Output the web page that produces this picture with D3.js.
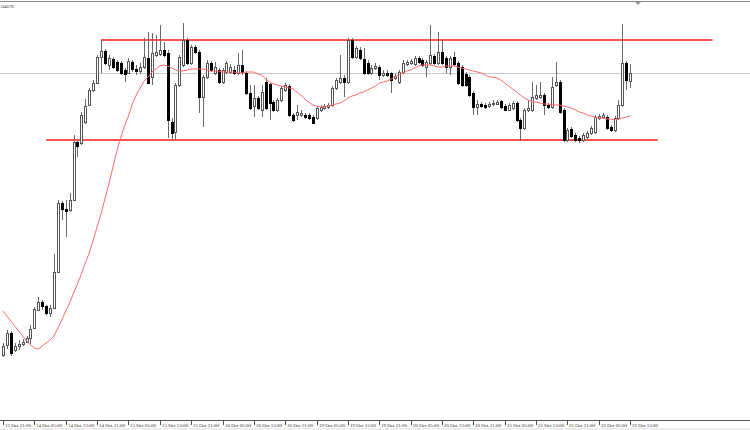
<!DOCTYPE html>
<html><head><meta charset="utf-8">
<script src="https://cdn.jsdelivr.net/npm/d3@7"></script>
<style>body{margin:0;background:#fff;} svg{display:block;}</style>
</head><body>
<svg id="c" width="750" height="430"></svg>
<script>
// H1 candles, 13 Oct 21:00 .. 22 Oct 13:00
const open = [1.0145,1.0155,1.0167,1.0150,1.0154,1.0156,1.0158,1.0162,1.0172,1.0190,
1.0198,1.0194,1.0187,1.0192,1.0228,1.0297,1.0291,1.0290,1.0300,1.0358,
1.0357,1.0378,1.0395,1.0410,1.0417,1.0443,1.0449,1.0435,1.0441,1.0438,
1.0437,1.0430,1.0427,1.0438,1.0431,1.0429,1.0433,1.0442,1.0423,1.0445,
1.0446,1.0450,1.0447,1.0378,1.0368,1.0415,1.0435,1.0460,1.0437,1.0453,
1.0448,1.0403,1.0423,1.0437,1.0427,1.0430,1.0418,1.0428,1.0428,1.0430,
1.0427,1.0435,1.0427,1.0407,1.0394,1.0402,1.0390,1.0418,1.0416,1.0398,
1.0390,1.0400,1.0410,1.0414,1.0385,1.0385,1.0385,1.0385,1.0385,1.0383,
1.0382,1.0390,1.0392,1.0393,1.0395,1.0412,1.0418,1.0422,1.0418,1.0460,
1.0443,1.0450,1.0441,1.0437,1.0427,1.0432,1.0433,1.0425,1.0427,1.0427,
1.0422,1.0418,1.0428,1.0436,1.0437,1.0436,1.0442,1.0440,1.0433,1.0437,
1.0444,1.0437,1.0448,1.0442,1.0433,1.0443,1.0437,1.0433,1.0426,1.0423,
1.0407,1.0393,1.0396,1.0395,1.0394,1.0396,1.0396,1.0399,1.0394,1.0390,
1.0392,1.0397,1.0380,1.0372,1.0390,1.0390,1.0402,1.0403,1.0405,1.0395,
1.0393,1.0415,1.0418,1.0390,1.0360,1.0371,1.0365,1.0362,1.0360,1.0363,
1.0367,1.0368,1.0382,1.0383,1.0383,1.0373,1.0370,1.0382,1.0395,1.0437,
1.0419];
const high = [1.0157,1.0170,1.0169,1.0157,1.0160,1.0161,1.0164,1.0175,1.0193,1.0203,
1.0200,1.0195,1.0195,1.0246,1.0300,1.0299,1.0300,1.0307,1.0365,1.0360,
1.0388,1.0401,1.0412,1.0420,1.0445,1.0460,1.0451,1.0445,1.0443,1.0440,
1.0439,1.0432,1.0442,1.0440,1.0435,1.0437,1.0462,1.0468,1.0467,1.0465,
1.0475,1.0458,1.0450,1.0382,1.0417,1.0445,1.0477,1.0462,1.0455,1.0455,
1.0450,1.0425,1.0440,1.0439,1.0438,1.0432,1.0432,1.0439,1.0436,1.0434,
1.0447,1.0450,1.0429,1.0415,1.0415,1.0404,1.0415,1.0422,1.0418,1.0400,
1.0402,1.0414,1.0417,1.0416,1.0387,1.0395,1.0390,1.0387,1.0387,1.0385,
1.0394,1.0395,1.0396,1.0397,1.0414,1.0422,1.0445,1.0425,1.0462,1.0462,
1.0454,1.0453,1.0452,1.0440,1.0435,1.0437,1.0435,1.0430,1.0430,1.0428,
1.0426,1.0430,1.0440,1.0440,1.0441,1.0444,1.0444,1.0442,1.0440,1.0475,
1.0446,1.0468,1.0460,1.0444,1.0444,1.0448,1.0439,1.0435,1.0428,1.0425,
1.0409,1.0400,1.0398,1.0397,1.0398,1.0400,1.0400,1.0400,1.0396,1.0397,
1.0399,1.0399,1.0382,1.0392,1.0400,1.0418,1.0415,1.0418,1.0407,1.0397,
1.0423,1.0438,1.0420,1.0392,1.0372,1.0373,1.0367,1.0364,1.0367,1.0369,
1.0374,1.0385,1.0386,1.0387,1.0385,1.0375,1.0384,1.0400,1.0476,1.0439,
1.0436];
const low = [1.0143,1.0151,1.0144,1.0148,1.0150,1.0154,1.0157,1.0156,1.0171,1.0189,
1.0190,1.0185,1.0183,1.0191,1.0227,1.0280,1.0263,1.0288,1.0299,1.0343,
1.0355,1.0376,1.0394,1.0408,1.0416,1.0427,1.0435,1.0430,1.0431,1.0428,
1.0425,1.0418,1.0426,1.0428,1.0425,1.0426,1.0431,1.0416,1.0415,1.0443,
1.0444,1.0443,1.0362,1.0360,1.0360,1.0413,1.0433,1.0435,1.0435,1.0446,
1.0387,1.0373,1.0421,1.0428,1.0425,1.0416,1.0416,1.0426,1.0426,1.0425,
1.0425,1.0425,1.0405,1.0390,1.0383,1.0390,1.0383,1.0390,1.0380,1.0388,
1.0388,1.0398,1.0408,1.0383,1.0378,1.0380,1.0383,1.0381,1.0380,1.0376,
1.0380,1.0388,1.0390,1.0391,1.0393,1.0410,1.0416,1.0403,1.0416,1.0441,
1.0441,1.0440,1.0425,1.0425,1.0425,1.0430,1.0420,1.0423,1.0423,1.0407,
1.0420,1.0416,1.0426,1.0434,1.0435,1.0434,1.0436,1.0433,1.0423,1.0435,
1.0435,1.0435,1.0435,1.0427,1.0425,1.0434,1.0415,1.0413,1.0413,1.0403,
1.0385,1.0385,1.0392,1.0391,1.0392,1.0394,1.0395,1.0391,1.0389,1.0389,
1.0390,1.0378,1.0359,1.0370,1.0388,1.0388,1.0400,1.0401,1.0385,1.0391,
1.0391,1.0413,1.0386,1.0358,1.0358,1.0362,1.0358,1.0357,1.0358,1.0361,
1.0365,1.0366,1.0380,1.0381,1.0370,1.0368,1.0368,1.0380,1.0393,1.0410,
1.0412];
const close = [1.0154,1.0167,1.0147,1.0154,1.0156,1.0158,1.0162,1.0171,1.0191,1.0198,
1.0194,1.0187,1.0192,1.0228,1.0297,1.0291,1.0289,1.0300,1.0358,1.0354,
1.0385,1.0394,1.0410,1.0417,1.0443,1.0449,1.0437,1.0442,1.0433,1.0430,
1.0427,1.0426,1.0439,1.0431,1.0429,1.0433,1.0443,1.0417,1.0447,1.0448,
1.0450,1.0445,1.0380,1.0367,1.0415,1.0443,1.0460,1.0437,1.0453,1.0448,
1.0403,1.0423,1.0437,1.0430,1.0433,1.0418,1.0430,1.0437,1.0433,1.0427,
1.0435,1.0428,1.0407,1.0392,1.0402,1.0392,1.0408,1.0392,1.0397,1.0390,
1.0400,1.0412,1.0415,1.0385,1.0380,1.0388,1.0387,1.0383,1.0382,1.0377,
1.0392,1.0393,1.0394,1.0395,1.0412,1.0420,1.0422,1.0418,1.0460,1.0443,
1.0452,1.0442,1.0427,1.0427,1.0432,1.0434,1.0425,1.0427,1.0425,1.0420,
1.0424,1.0428,1.0437,1.0438,1.0439,1.0442,1.0438,1.0435,1.0438,1.0445,
1.0437,1.0448,1.0437,1.0433,1.0442,1.0436,1.0417,1.0415,1.0415,1.0405,
1.0393,1.0396,1.0394,1.0393,1.0396,1.0397,1.0398,1.0393,1.0390,1.0395,
1.0397,1.0380,1.0372,1.0390,1.0392,1.0403,1.0405,1.0405,1.0395,1.0393,
1.0413,1.0418,1.0388,1.0360,1.0370,1.0364,1.0360,1.0360,1.0365,1.0367,
1.0372,1.0383,1.0384,1.0385,1.0372,1.0370,1.0382,1.0395,1.0437,1.0420,
1.0427];
// moving average, one value per bar
const ma = [1.0189,1.0184,1.0179,1.0174,1.0169,1.0164,1.0159,1.0155,1.0152,1.0151,
1.0154,1.0157,1.0160,1.0164,1.0172,1.0180,1.0189,1.0197,1.0207,1.0216,
1.0226,1.0237,1.0247,1.0260,1.0273,1.0286,1.0301,1.0316,1.0332,1.0348,
1.0362,1.0374,1.0384,1.0396,1.0405,1.0412,1.0419,1.0423,1.0428,1.0431,
1.0434,1.0435,1.0434,1.0432,1.0430,1.0429,1.0429,1.0430,1.0431,1.0431,
1.0431,1.0431,1.0430,1.0429,1.0429,1.0429,1.0428,1.0428,1.0428,1.0428,
1.0427,1.0427,1.0428,1.0428,1.0428,1.0426,1.0425,1.0421,1.0418,1.0416,
1.0415,1.0414,1.0413,1.0412,1.0411,1.0408,1.0405,1.0401,1.0398,1.0395,
1.0394,1.0393,1.0393,1.0394,1.0395,1.0396,1.0397,1.0399,1.0402,1.0404,
1.0405,1.0407,1.0408,1.0410,1.0412,1.0414,1.0417,1.0418,1.0419,1.0421,
1.0423,1.0425,1.0427,1.0429,1.0430,1.0432,1.0434,1.0435,1.0435,1.0435,
1.0434,1.0433,1.0433,1.0434,1.0434,1.0434,1.0433,1.0432,1.0431,1.0430,
1.0429,1.0428,1.0427,1.0425,1.0423,1.0423,1.0422,1.0420,1.0417,1.0414,
1.0411,1.0408,1.0405,1.0402,1.0400,1.0398,1.0398,1.0397,1.0396,1.0396,
1.0395,1.0395,1.0395,1.0394,1.0393,1.0392,1.0390,1.0388,1.0387,1.0385,
1.0384,1.0383,1.0382,1.0382,1.0381,1.0381,1.0380,1.0381,1.0382,1.0383,
1.0384];
const timeLabels = ["13 Oct 21:00","14 Oct 05:00","14 Oct 13:00","14 Oct 21:00","15 Oct 05:00",
"15 Oct 13:00","15 Oct 21:00","16 Oct 05:00","16 Oct 13:00","16 Oct 21:00","19 Oct 05:00",
"19 Oct 13:00","19 Oct 21:00","20 Oct 05:00","20 Oct 13:00","20 Oct 21:00","21 Oct 05:00",
"21 Oct 13:00","21 Oct 21:00","22 Oct 05:00","22 Oct 13:00"];
const labelStep = 8; // bars between time labels
const priceText = ".04678";
// horizontal trend lines: price level, first bar, last bar
const hLines = [
  {price: 1.0460, from: 25, to: 181},
  {price: 1.0360, from: 11, to: 167}
];

const W = 750, H = 430;
const svg = d3.select("#c");
const n = open.length;
const x = d3.scaleLinear().domain([0, n - 1]).range([3, 630.2]);
const y = d3.scaleLinear().domain([1.0080, 1.0500]).range([420, 0]);
const cx = i => Math.round(x(i)) + 0.5;

// top border
svg.append("line").attr("x1",0).attr("x2",W).attr("y1",1.5).attr("y2",1.5)
  .attr("stroke","#8a8a8a").attr("stroke-width",1);
// shift marker
svg.append("path").attr("d","M635,2 L641,2 L638,5 Z").attr("fill","#9a9a9a");
svg.append("text").attr("x",0).attr("y",7.5).text(priceText)
  .attr("font-family","Liberation Serif").attr("font-size",5).attr("fill","#333");

// bid line at last close
svg.append("line").attr("x1",0).attr("x2",W)
  .attr("y1",Math.round(y(close[n-1]))+0.5).attr("y2",Math.round(y(close[n-1]))+0.5)
  .attr("stroke","#c8c8c8").attr("stroke-width",1);

// trend lines
svg.selectAll("line.h").data(hLines).join("line").attr("class","h")
  .attr("x1",d=>x(d.from)).attr("x2",d=>x(d.to))
  .attr("y1",d=>y(d.price)).attr("y2",d=>y(d.price))
  .attr("stroke","#ff1a1a").attr("stroke-width",1.6);

// candles
const idx = d3.range(n);
const g = svg.append("g");
g.selectAll("line.w").data(idx).join("line").attr("class","w")
  .attr("x1",cx).attr("x2",cx)
  .attr("y1",i=>y(high[i])).attr("y2",i=>y(low[i]))
  .attr("stroke","#6a6a6a").attr("stroke-width",1);
g.selectAll("rect.b").data(idx).join("rect").attr("class","b")
  .attr("x",i=>cx(i)-1).attr("width",2)
  .attr("y",i=>Math.round(y(Math.max(open[i],close[i])))+0.5)
  .attr("height",i=>Math.max(0.01,Math.round(Math.abs(y(open[i])-y(close[i])))))
  .attr("fill",i=>close[i] >= open[i] ? "#fff" : "#000")
  .attr("stroke",i=>close[i] >= open[i] ? "#555" : "#000")
  .attr("stroke-width",1);

// moving average
svg.append("path").datum(idx)
  .attr("d", d3.line().x(i=>x(i)).y(i=>y(ma[i])))
  .attr("fill","none").attr("stroke","#ff6a6a").attr("stroke-width",1);

// time axis
svg.append("line").attr("x1",0).attr("x2",W).attr("y1",420.5).attr("y2",420.5)
  .attr("stroke","#555").attr("stroke-width",1);
const tickIdx = timeLabels.map((t,k)=>k*labelStep);
svg.selectAll("line.t").data(tickIdx).join("line").attr("class","t")
  .attr("x1",cx).attr("x2",cx).attr("y1",420.5).attr("y2",425)
  .attr("stroke","#555").attr("stroke-width",1);
svg.selectAll("text.t").data(tickIdx).join("text").attr("class","t")
  .attr("x",i=>cx(i)+1.5).attr("y",426.5)
  .text((i,k)=>timeLabels[k])
  .attr("font-family","Liberation Serif").attr("font-size",5).attr("fill","#333");
svg.append("rect").attr("x",0).attr("y",428).attr("width",W).attr("height",2).attr("fill","#eee");
</script>
</body></html>
